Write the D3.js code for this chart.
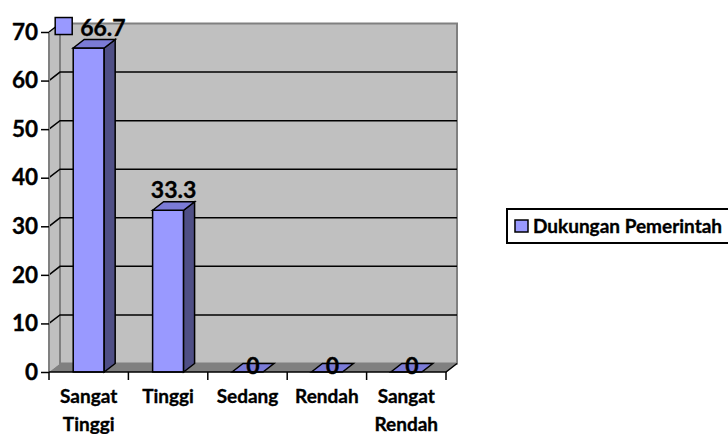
<!DOCTYPE html>
<html>
<head>
<meta charset="utf-8">
<script src="https://cdn.jsdelivr.net/npm/d3@7"></script>
<style>
  body { margin: 0; background: #fff; }
  svg text { font-family: Lato, "Open Sans", sans-serif; font-weight: bold; fill: #000; stroke: #000; stroke-width: 0.35px; }
</style>
</head>
<body>
<svg id="chart" width="728" height="434"></svg>
<script>
const categories = ['Sangat Tinggi', 'Tinggi', 'Sedang', 'Rendah', 'Sangat Rendah'];
const values = [66.7, 33.3, 0, 0, 0];
const yTicks = [0, 10, 20, 30, 40, 50, 60, 70];
const seriesName = 'Dukungan Pemerintah';

drawChart('#chart');

function drawChart(idsvg) {
    const svg = d3.select(idsvg);
    const left = 49, right = 446, top = 32, bottom = 372;
    const dx = 11, dy = -8.5; // profundidad 3D

    const x = d3.scaleBand().domain(categories).range([left, right]);
    const y = d3.scaleLinear().domain([0, 70]).range([bottom, top]);
    const bw = x.bandwidth();
    const barW = bw * 0.39;

    const pts = p => p.map(d => d.join(',')).join(' ');

    // pared lateral
    svg.append('polygon')
        .attr('points', pts([[left, y(70)], [left + dx, y(70) + dy], [left + dx, y(0) + dy], [left, y(0)]]))
        .attr('fill', '#c0c0c0');

    // pared del fondo
    svg.append('rect')
        .attr('x', left + dx).attr('y', y(70) + dy)
        .attr('width', right - left).attr('height', y(0) - y(70))
        .attr('fill', '#c0c0c0').attr('stroke', '#808080').attr('stroke-width', 2);

    // suelo
    svg.append('polygon')
        .attr('points', pts([[left, y(0)], [right, y(0)], [right + dx, y(0) + dy], [left + dx, y(0) + dy]]))
        .attr('fill', '#808080');

    // lineas de cuadricula
    const grid = svg.append('g').attr('id', 'grid');
    yTicks.filter(t => t > 0 && t < 70).forEach(t => {
        grid.append('polyline')
            .attr('points', pts([[left, y(t)], [left + dx, y(t) + dy], [right + dx, y(t) + dy]]))
            .attr('fill', 'none').attr('stroke', '#000').attr('stroke-width', 1.5);
    });
    grid.append('line')
        .attr('x1', left).attr('y1', y(70)).attr('x2', left + dx).attr('y2', y(70) + dy)
        .attr('stroke', '#000').attr('stroke-width', 1.5);

    // barras
    const bars = svg.append('g').attr('id', 'barras');
    categories.forEach((c, i) => {
        const x0 = x(c) + (bw - barW) / 2;
        const yv = y(values[i]), y0 = y(0);
        if (values[i] > 0) {
            bars.append('rect')
                .attr('x', x0).attr('y', yv).attr('width', barW).attr('height', y0 - yv)
                .attr('fill', '#9999ff').attr('stroke', '#000').attr('stroke-width', 1.5);
            bars.append('polygon')
                .attr('points', pts([[x0 + barW, yv], [x0 + barW + dx, yv + dy], [x0 + barW + dx, y0 + dy], [x0 + barW, y0]]))
                .attr('fill', '#4f4f85').attr('stroke', '#000').attr('stroke-width', 1.5);
        }
        bars.append('polygon')
            .attr('points', pts([[x0, yv], [x0 + dx, yv + dy], [x0 + barW + dx, yv + dy], [x0 + barW, yv]]))
            .attr('fill', '#7b7bd6').attr('stroke', '#000').attr('stroke-width', 1.5);
    });

    // etiquetas de valor
    const labels = svg.append('g').attr('id', 'etiquetas');
    categories.forEach((c, i) => {
        const cx = x(c) + bw / 2 + dx / 2;
        const by = values[i] > 0 ? y(values[i]) + dy - 4 : y(0) + 1.5;
        const t = labels.append('text')
            .attr('x', cx).attr('y', by)
            .attr('text-anchor', 'middle')
            .attr('font-size', 23)
            .text(values[i]);
        if (i == 0) {
            t.attr('x', cx - 14).attr('text-anchor', 'start');
            labels.append('rect')
                .attr('x', cx - 39).attr('y', by - 18).attr('width', 17).attr('height', 17)
                .attr('fill', '#9999ff').attr('stroke', '#000').attr('stroke-width', 1.5);
        }
    });

    // eje y
    svg.append('line')
        .attr('x1', left).attr('y1', y(70)).attr('x2', left).attr('y2', y(0))
        .attr('stroke', '#808080').attr('stroke-width', 2);
    const yAxis = d3.axisLeft(y).tickValues(yTicks).tickSize(8).tickPadding(3);
    const gy = svg.append('g')
        .attr('transform', 'translate(' + left + ',0)')
        .call(yAxis);
    gy.select('.domain').remove();
    gy.selectAll('.tick line').attr('stroke', '#000').attr('stroke-width', 1.5);
    gy.selectAll('.tick text').attr('font-size', 22.5).attr('font-family', 'Lato').attr('font-weight', 'bold');

    // eje x
    svg.append('polyline')
        .attr('points', pts([[left, y(0)], [right, y(0)], [right + dx, y(0) + dy]]))
        .attr('fill', 'none').attr('stroke', '#000').attr('stroke-width', 1.5);
    const bounds = categories.map(c => x(c)).concat([right]);
    bounds.forEach(b => {
        svg.append('line')
            .attr('x1', b).attr('y1', y(0)).attr('x2', b).attr('y2', y(0) + 8)
            .attr('stroke', '#000').attr('stroke-width', 1.5);
    });
    const xl = svg.append('g').attr('id', 'catlabels');
    categories.forEach(c => {
        const t = xl.append('text')
            .attr('x', x(c) + bw / 2).attr('y', 403)
            .attr('text-anchor', 'middle')
            .attr('font-size', 19);
        c.split(' ').forEach((w, j) => {
            t.append('tspan').attr('x', x(c) + bw / 2).attr('dy', j == 0 ? 0 : 28).text(w);
        });
    });

    // leyenda
    const leg = svg.append('g').attr('id', 'leyenda');
    leg.append('rect')
        .attr('x', 507).attr('y', 209).attr('width', 240).attr('height', 34)
        .attr('fill', '#fff').attr('stroke', '#000').attr('stroke-width', 2);
    leg.append('rect')
        .attr('x', 515).attr('y', 220).attr('width', 13).attr('height', 12)
        .attr('fill', '#9999ff').attr('stroke', '#000').attr('stroke-width', 1.5);
    leg.append('text')
        .attr('x', 533).attr('y', 233)
        .attr('font-size', 19)
        .text(seriesName);
}
</script>
</body>
</html>
